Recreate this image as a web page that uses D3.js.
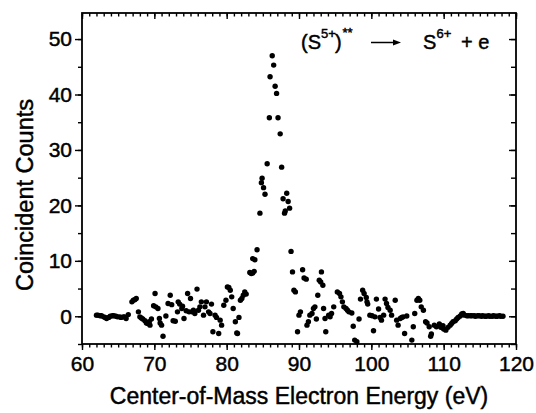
<!DOCTYPE html>
<html><head><meta charset="utf-8">
<script src="https://cdn.jsdelivr.net/npm/d3@7"></script>
<style>
html,body{margin:0;padding:0;background:#fff;}
svg{display:block;}
text{font-family:"Liberation Sans",Arial,Helvetica,sans-serif;fill:#000;stroke:#000;stroke-width:0.45px;}
</style></head>
<body><svg id="c" width="536" height="413"></svg>
<script>
const energy = [
 62.0,62.2,62.5,62.7,63.0,63.2,63.4,63.7,63.9,64.2,64.4,64.7,64.9,65.2,65.4,65.7,65.9,66.1,66.4,
 66.9,67.1,67.3,67.5,67.8,68.0,68.2,68.4,68.7,68.9,69.1,69.3,69.4,69.6,69.9,70.1,70.2,70.5,70.7,70.8,71.0,71.2,
 71.6,71.9,72.2,72.4,72.6,72.9,73.2,73.3,73.5,73.8,73.9,74.1,74.4,74.6,74.8,75.0,75.2,75.4,75.6,75.9,
 76.1,76.3,76.5,76.8,77.0,77.2,77.5,77.7,77.9,78.1,78.4,78.6,78.9,79.1,79.3,79.6,79.9,
 80.1,80.3,80.5,80.7,80.9,81.2,81.4,81.5,81.7,81.9,82.1,82.3,82.5,82.7,
 83.2,83.4,83.6,83.8,83.6,83.9,84.2,84.6,84.8,84.9,85.1,85.3,85.6,85.9,86.0,86.3,86.5,86.7,86.9,
 87.1,87.4,87.6,87.8,88.0,88.1,88.3,88.5,88.7,88.9,89.1,89.3,89.5,
 89.8,90.0,90.2,90.5,90.7,91.0,91.1,91.3,91.5,91.8,92.0,92.2,92.4,92.6,92.8,93.0,93.1,93.3,93.4,93.6,93.7,
 94.1,94.3,94.5,94.8,95.3,95.6,95.8,96.0,96.2,96.5,96.7,96.9,97.3,97.5,97.7,98.0,98.3,98.5,98.8,99.0,99.3,99.4,99.5,
 99.8,100.1,100.3,100.5,100.7,101.0,101.2,101.4,101.7,101.9,102.1,102.3,102.6,102.8,103.3,103.5,103.7,104.0,104.2,104.4,104.6,104.9,
 105.6,105.8,106.0,106.3,106.5,106.7,106.9,107.2,107.5,107.7,108.0,108.2,108.3,108.7,109.0,109.4,109.6,109.9,110.0,110.3,110.6,110.9,
 111.1,111.3,111.6,111.8,112.0,112.3,112.5,112.7,
 112.9,113.2,113.4,113.7,113.9,114.2,114.4,114.7,114.9,115.2,115.4,115.7,115.9,116.2,116.4,116.7,116.9,117.2,117.4,117.7,117.9,118.2
];
const counts = [
 0.2,0.2,0.1,0.1,-0.1,-0.2,-0.4,-0.2,0.0,0.1,0.1,0.0,-0.1,-0.1,-0.2,-0.1,-0.1,-0.4,0.3,
 2.6,2.9,3.0,3.2,0.8,-0.1,-0.3,-0.5,-0.8,-1.2,-1.3,-1.0,-1.6,-0.5,1.9,4.1,1.7,1.4,-0.4,-1.2,-1.6,-3.6,
 0.05,2.3,3.8,2.1,-0.8,-0.9,0.8,2.6,2.2,1.4,1.8,-0.4,1.0,4.1,0.8,3.2,0.8,1.1,0.5,4.9,
 1.1,1.7,2.6,0.2,1.7,2.6,0.8,0.5,2.2,-2.8,0.2,-0.2,-3.1,-0.7,-1.6,2.0,2.9,
 5.3,5.2,4.7,3.5,1.4,-1.0,-3.0,-3.1,-0.2,2.9,3.2,3.8,4.4,4.0,
 7.9,7.7,7.8,8.1,10.4,10.2,12.0,18.6,24.1,24.9,23.2,22.0,27.5,35.8,43.2,47.0,45.3,41.5,40.2,
 35.8,32.9,26.9,21.2,18.6,19.0,22.2,20.7,19.5,11.7,8.0,4.7,4.4,
 -2.8,0.2,0.8,8.4,6.9,6.7,-1.6,-1.0,0.2,0.5,1.4,1.7,-0.5,3.8,6.5,6.2,8.0,5.6,1.4,-0.4,-2.8,
 0.2,-0.1,0.5,1.7,4.4,4.1,3.5,2.6,1.7,1.4,1.1,0.8,0.6,-1.8,-4.3,-4.6,-0.5,3.1,4.7,4.1,3.4,2.6,2.2,
 0.2,0.1,-2.6,-0.1,3.1,1.3,-0.2,-0.7,0.2,3.1,2.3,1.6,1.1,0.2,2.9,-0.7,-1.6,-0.4,-0.2,-0.1,-3.1,0.05,
 -4.3,-1.9,0.5,2.9,3.2,2.9,1.7,1.1,-1.0,-1.2,-1.9,-3.6,-3.2,-1.6,-1.9,-1.4,-2.0,-1.7,-2.3,-2.5,-2.0,-1.6,
 -1.3,-1.0,-0.8,-0.5,-0.2,0.05,0.4,0.5,
 0.2,0.1,0.1,0.1,0.1,0.1,0.0,0.1,0.1,0.0,0.1,0.0,0.0,0.1,0.0,0.0,0.1,0.0,0.0,0.1,0.0,0.0
];
const xDomain = [60, 120];
const yDomain = [-5, 54.7];
const xTickValues = [60, 70, 80, 90, 100, 110, 120];
const yTickValues = [0, 10, 20, 30, 40, 50];
const xTitle = "Center-of-Mass Electron Energy (eV)";
const yTitle = "Coincident Counts";

const svg = d3.select("#c");
const L = 82, R = 516, T = 13, B = 344;
const x = d3.scaleLinear().domain(xDomain).range([L, R]);
const y = d3.scaleLinear().domain(yDomain).range([B, T]);

const xMinor = d3.range(60, 121, 1);
const yMinor = d3.range(-5, 55, 5);

function styleAxis(g){
  g.select(".domain").remove();
  g.selectAll(".tick line").attr("stroke","#000").attr("stroke-width",1.4);
}
svg.append("g").attr("transform",`translate(0,${B})`)
  .call(d3.axisBottom(x).tickValues(xMinor).tickSize(3.5).tickFormat(""))
  .call(styleAxis);
svg.append("g").attr("transform",`translate(0,${B})`)
  .call(d3.axisBottom(x).tickValues(xTickValues).tickSize(6).tickPadding(6).tickFormat(d3.format("d")))
  .call(styleAxis)
  .call(g=>g.selectAll("text").attr("font-size",21).attr("dy","0.72em"));
svg.append("g").attr("transform",`translate(0,${T})`)
  .call(d3.axisBottom(x).tickValues(xMinor).tickSize(3.5).tickFormat(""))
  .call(styleAxis);
svg.append("g").attr("transform",`translate(0,${T})`)
  .call(d3.axisBottom(x).tickValues(xTickValues).tickSize(6).tickFormat(""))
  .call(styleAxis);
svg.append("g").attr("transform",`translate(${L},0)`)
  .call(d3.axisLeft(y).tickValues(yMinor).tickSize(4).tickFormat(""))
  .call(styleAxis);
svg.append("g").attr("transform",`translate(${L},0)`)
  .call(d3.axisLeft(y).tickValues(yTickValues).tickSize(7).tickPadding(3).tickFormat(d3.format("d")))
  .call(styleAxis)
  .call(g=>g.selectAll("text").attr("font-size",21));
svg.append("g").attr("transform",`translate(${R},0)`)
  .call(d3.axisLeft(y).tickValues(yMinor).tickSize(5).tickFormat(""))
  .call(styleAxis);
svg.append("g").attr("transform",`translate(${R},0)`)
  .call(d3.axisLeft(y).tickValues(yTickValues).tickSize(7).tickFormat(""))
  .call(styleAxis);

svg.append("rect").attr("x",L).attr("y",T).attr("width",R-L).attr("height",B-T)
  .attr("fill","none").attr("stroke","#000").attr("stroke-width",1.8);

svg.append("g").selectAll("circle").data(energy.map((e,i)=>[e,counts[i]]))
  .join("circle").attr("cx",d=>x(d[0])).attr("cy",d=>y(d[1])).attr("r",2.7).attr("fill","#000");

svg.append("text").attr("x",(L+R)/2).attr("y",404).attr("text-anchor","middle")
  .attr("font-size",23).text(xTitle);
svg.append("text").attr("transform","translate(33,195) rotate(-90)").attr("text-anchor","middle")
  .attr("font-size",23.5).text(yTitle);

const ann = svg.append("g");
const base = 49;
ann.append("text").attr("x",301).attr("y",base).attr("font-size",20).text("(S");
ann.append("text").attr("x",321).attr("y",base-11).attr("font-size",13).text("5+");
ann.append("text").attr("x",335).attr("y",base).attr("font-size",20).text(")");
ann.append("text").attr("x",342.5).attr("y",base-12).attr("font-size",13).text("**");
ann.append("line").attr("x1",371).attr("x2",395).attr("y1",42.5).attr("y2",42.5)
  .attr("stroke","#000").attr("stroke-width",1.5);
ann.append("path").attr("d","M401,42.5 L393,39.5 L393,45.5 Z").attr("fill","#000");
ann.append("text").attr("x",423).attr("y",base).attr("font-size",20).text("S");
ann.append("text").attr("x",436.5).attr("y",base-11).attr("font-size",13).text("6+");
ann.append("text").attr("x",461).attr("y",base).attr("font-size",20).text("+ e");
</script></body></html>
